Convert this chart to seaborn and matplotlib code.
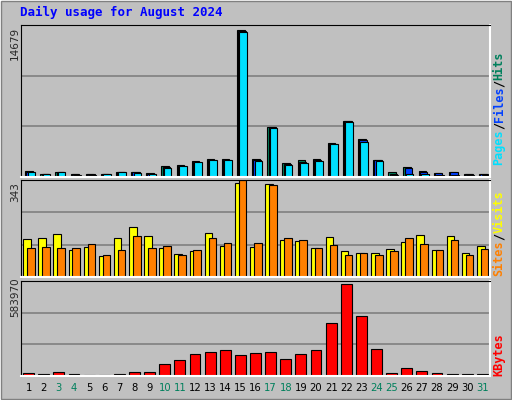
import matplotlib
matplotlib.use("Agg")
import matplotlib.pyplot as plt
import seaborn as sns
import numpy as np
from matplotlib.patches import Rectangle

sns.set_style("white")
plt.rcParams['font.family'] = ['DejaVu Sans Mono']

days = list(range(1, 32))
weekend = [3, 4, 10, 11, 17, 18, 24, 25, 31]
U = 14679 / 442
hits = [v * U for v in [19,10,16,9,9,10,16,16,12,32,35,49,55,55,442,55,151,43,52,55,103,170,113,52,16,29,19,13,16,10,10]]
files = [v * U for v in [16,10,14,8,8,9,15,14,10,30,34,46,50,52,438,50,150,40,46,50,100,168,110,50,10,27,16,12,14,9,9]]
pages = [v * U for v in [16,10,14,7,7,9,16,12,9,28,34,46,50,52,436,49,148,37,43,49,100,166,106,49,7,10,10,7,7,7,7]]
V = 343 / 277
sites = [v * V for v in [109,112,124,76,85,61,112,142,118,82,67,73,127,88,268,85,265,106,103,82,115,73,70,70,79,100,121,76,118,70,88]]
visits = [v * V for v in [82,85,82,82,94,64,76,118,82,88,64,76,112,97,277,97,262,112,106,82,91,64,70,64,73,112,94,76,106,64,79]]
K = 583970 / 274
kbytes = [v * K for v in [10,7,13,7,4,4,7,13,13,37,49,67,73,79,64,70,73,52,67,79,157,274,178,82,10,25,16,10,7,7,7]]

BG = "#C0C0C0"
fig = plt.figure(figsize=(5.12, 4.0), dpi=100, facecolor=BG)
fig.patches.append(Rectangle((0, 0), 1, 1, transform=fig.transFigure, fill=False, edgecolor="white", lw=2))
fig.patches.append(Rectangle((0.002, 0.002), 0.996, 0.996, transform=fig.transFigure, fill=False, edgecolor="#808080", lw=1))

W, H = 512, 400
def ax_at(x0, y0, x1, y1):
    return fig.add_axes([x0 / W, 1 - y1 / H, (x1 - x0) / W, (y1 - y0) / H])

axes = [ax_at(21, 25, 490, 177), ax_at(21, 180, 490, 277), ax_at(21, 281, 490, 376)]
x = np.arange(len(days))
ec = "black"
a0, a1, a2 = axes
a0.bar(x - 0.22, hits, width=0.5, align="edge", color="#00805C", edgecolor=ec, lw=0.8)
a0.bar(x - 0.14, files, width=0.5, align="edge", color="#0040FF", edgecolor=ec, lw=0.8)
a0.bar(x - 0.06, pages, width=0.5, align="edge", color="#00E0FF", edgecolor=ec, lw=0.8)
a1.bar(x - 0.36, sites, width=0.5, align="edge", color="#FFFF00", edgecolor=ec, lw=0.8)
a1.bar(x - 0.1, visits, width=0.5, align="edge", color="#FF8000", edgecolor=ec, lw=0.8)
a2.bar(x - 0.36, kbytes, width=0.72, align="edge", color="#FF0000", edgecolor=ec, lw=0.8)

for ax, data in zip(axes, [hits, sites, kbytes]):
    m = max(data) * 1.035
    ax.set_ylim(0, m)
    ax.set_xlim(-0.5, 30.5)
    ax.set_facecolor(BG)
    for f in (1/3, 2/3):
        ax.axhline(m * f, color="#808080", lw=1.2, zorder=0)
    ax.set_yticks([])
    for s in ax.spines.values():
        s.set_color("black")
    ax.spines["right"].set_color("white")
    ax.spines["bottom"].set_color("white")
    ax.spines["right"].set_linewidth(1.5)
    ax.spines["bottom"].set_linewidth(1.5)
    ax.set_xticks([])

a2.set_xticks(x)
a2.set_xticklabels([str(d) for d in days], fontsize=7.2, family="DejaVu Sans")
a2.tick_params(axis="x", length=0, pad=5)
for lab, d in zip(a2.get_xticklabels(), days):
    lab.set_color("#00805C" if d in weekend else "black")

fig.text(20 / W, 1 - 12 / H, "Daily usage for August 2024", color="#0000FF", fontsize=9, weight="bold", va="center")
for txt, yc in [("14679", 43), ("343", 192), ("583970", 297)]:
    fig.text(15 / W, 1 - yc / H, txt, rotation=90, fontsize=7.5, va="center", ha="center", family="DejaVu Sans")

fig.canvas.draw()
rend = fig.canvas.get_renderer()
def right_label(parts, ybottom):
    y = ybottom
    for txt, col in parts:
        t = fig.text(499 / W, 1 - y / H, txt, rotation=90, color=col, fontsize=8.5,
                     weight="bold", va="bottom", ha="center", rotation_mode="anchor")
        t.set_rotation_mode("default")
        ext = t.get_window_extent(rend)
        y -= ext.height
right_label([("Pages", "#00E0FF"), ("/", "black"), ("Files", "#0040FF"), ("/", "black"), ("Hits", "#00805C")], 165)
right_label([("Sites", "#FF8000"), ("/", "black"), ("Visits", "#FFFF00")], 276)
right_label([("KBytes", "#FF0000")], 376)

fig.savefig("out.png", dpi=100, facecolor=BG)
